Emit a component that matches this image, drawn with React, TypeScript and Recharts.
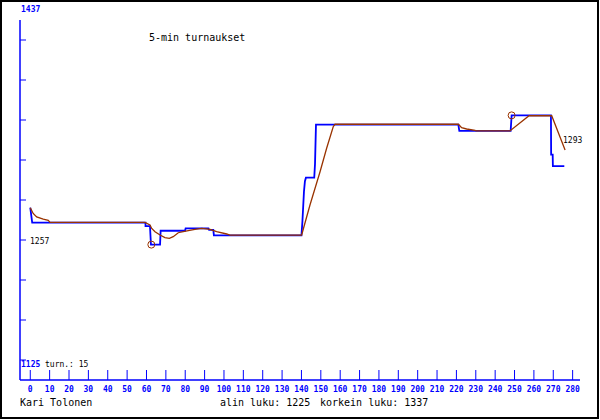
import { LineChart, Line, XAxis, YAxis, ReferenceDot } from 'recharts';

// raw 5-min values (blue) and their running average (brown)
const rawX = [0, 1, 59.5, 59.5, 61.8, 62.3, 67, 67.3, 79.9, 80.2, 92, 92.3, 94.5, 94.8, 140, 140.5, 141.3, 141.8, 142.3, 146.6, 147, 147.5, 221, 221.5, 248, 248.5, 268.8, 268.9, 269.7, 269.8, 275.7];
const rawValues = [1257, 1244, 1244, 1241, 1241, 1225, 1225, 1237, 1237, 1239, 1239, 1237.7, 1237.7, 1233, 1233, 1245, 1271, 1280, 1283, 1283, 1295, 1329, 1329, 1323.5, 1323.5, 1337, 1337, 1303, 1303, 1293, 1293];

const avgX = [0, 1.5, 3.3, 6.7, 9.3, 10.2, 59.2, 61.8, 62.7, 64.4, 67, 69.5, 71.8, 73.8, 76.4, 79, 81.6, 85, 88.5, 92.8, 96.2, 101.4, 103.1, 140.1, 144.4, 149.6, 153, 156.4, 157.3, 221, 222.7, 225.3, 229.6, 230.1, 247.6, 257.5, 269.2, 276.1];
const avgValues = [1257, 1252, 1249, 1247, 1246, 1244.3, 1244.3, 1242, 1239, 1236.2, 1233.3, 1231, 1230.4, 1231.9, 1235.3, 1236.2, 1237.1, 1238.3, 1239.1, 1238.3, 1236.2, 1234.2, 1233.3, 1233.3, 1259.3, 1288.2, 1308.5, 1327.2, 1329.3, 1329.3, 1326.3, 1325.2, 1324.1, 1323.5, 1323.5, 1336.7, 1336.7, 1307];

const xTicks = [0, 10, 20, 30, 40, 50, 60, 70, 80, 90, 100, 110, 120, 130, 140, 150, 160, 170, 180, 190, 200, 210, 220, 230, 240, 250, 260, 270, 280];

const LOW = 1125;
const HIGH = 1437;
const minPoint = { x: 62.5, y: 1225 };
const maxPoint = { x: 248.5, y: 1337 };

const STEP = (HIGH - LOW) / 9;
const yTicks = Array.from({ length: 9 }, (_, i) => LOW + i * STEP);

const raw = rawX.map((x, i) => ({ x, y: rawValues[i] }));
const avg = avgX.map((x, i) => ({ x, y: avgValues[i] }));

const BLUE = '#0000ff';
const BROWN = '#993300';
const mono = '"DejaVu Sans Mono", monospace';

const XTick = (props: any) => {
  const { x, y, payload } = props;
  return (
    <g>
      <line x1={x} x2={x} y1={y} y2={y - 10} stroke={BLUE} strokeWidth={1} />
      <text x={x} y={y + 12} textAnchor="middle" fill={BLUE} fontSize={8} fontWeight="bold" fontFamily={mono}>
        {payload.value}
      </text>
    </g>
  );
};

// y ticks point inwards and carry no label
const YTick = (props: any) => {
  const { x, y } = props;
  return <line x1={x} x2={x + 6} y1={y} y2={y} stroke={BLUE} strokeWidth={1} />;
};

export default function App() {
  return (
    <div style={{ position: 'absolute', left: 0, top: 0, width: 600, height: 420, background: '#fff' }}>
      <LineChart width={600} height={420} margin={{ top: 20, right: 20, bottom: 0, left: 20 }}>
        <XAxis
          type="number"
          dataKey="x"
          domain={[-5.3, 283.8]}
          ticks={xTicks}
          allowDataOverflow
          height={40}
          tickSize={0}
          tickMargin={0}
          tickLine={false}
          axisLine={{ stroke: BLUE, strokeWidth: 1.5 }}
          tick={<XTick />}
          interval={0}
        />
        <YAxis
          type="number"
          dataKey="y"
          domain={[LOW - STEP / 2, HIGH - STEP / 2]}
          ticks={yTicks}
          allowDataOverflow
          width={10}
          mirror
          tickSize={0}
          tickMargin={0}
          tickLine={false}
          tick={<YTick />}
          interval={0}
          axisLine={{ stroke: BLUE, strokeWidth: 1.5 }}
        />
        <Line data={raw} dataKey="y" type="linear" stroke={BLUE} strokeWidth={1.8} dot={false} isAnimationActive={false} />
        <Line data={avg} dataKey="y" type="linear" stroke={BROWN} strokeWidth={1.3} dot={false} isAnimationActive={false} />
        <ReferenceDot x={minPoint.x} y={minPoint.y} r={3.5} fill="none" stroke={BROWN} strokeWidth={1} />
        <ReferenceDot x={maxPoint.x} y={maxPoint.y} r={3.5} fill="none" stroke={BROWN} strokeWidth={1} />
      </LineChart>
      <svg width={600} height={420} style={{ position: 'absolute', left: 0, top: 0, pointerEvents: 'none' }}>
        <rect x={1} y={1} width={597} height={417} fill="none" stroke="#000" strokeWidth={2} />
        <g fontFamily={mono}>
          <text x={21} y={12} fill={BLUE} fontSize={8} fontWeight="bold">1437</text>
          <text x={21} y={367} fill={BLUE} fontSize={8} fontWeight="bold">1125</text>
          <text x={45} y={367} fill="#000" fontSize={8}>turn.: 15</text>
          <text x={30} y={244} fill="#000" fontSize={8}>1257</text>
          <text x={563} y={143} fill="#000" fontSize={8}>1293</text>
          <text x={149} y={41} fill="#000" fontSize={10}>5-min turnaukset</text>
          <text x={20} y={406} fill="#000" fontSize={10}>Kari Tolonen</text>
          <text x={220} y={406} fill="#000" fontSize={10}>alin luku: 1225</text>
          <text x={320} y={406} fill="#000" fontSize={10}>korkein luku: 1337</text>
        </g>
      </svg>
    </div>
  );
}
